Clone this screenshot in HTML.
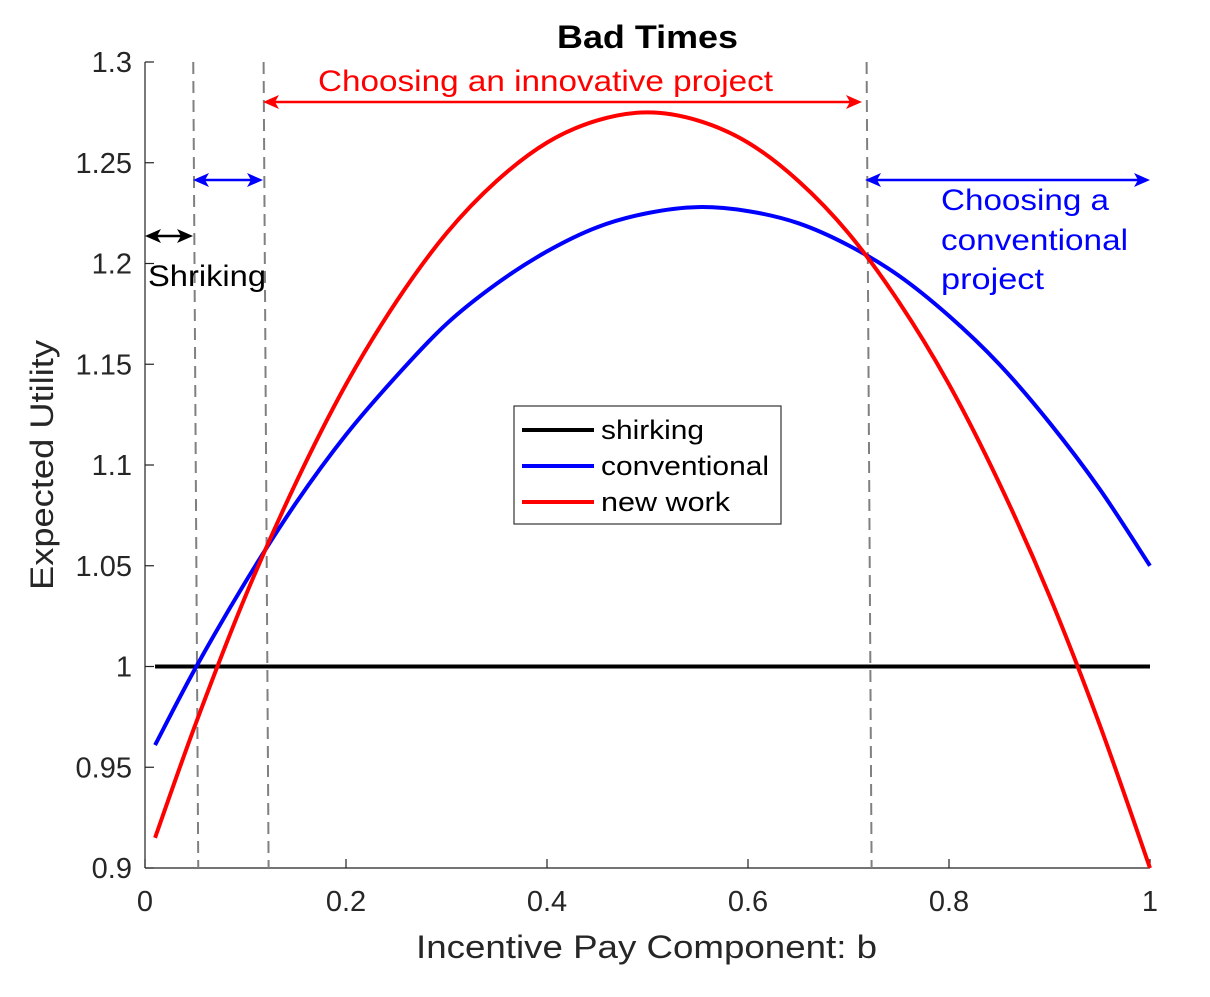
<!DOCTYPE html>
<html><head><meta charset="utf-8"><style>
body{margin:0;background:#fff}
svg text{font-family:"Liberation Sans",Arial,sans-serif}
</style></head><body>
<svg width="1210" height="992" viewBox="0 0 1210 992">
<g id="plot"></g>
</svg>
<script>
const bValues=[0.01,0.05,0.1,0.15,0.2,0.25,0.3,0.35,0.4,0.45,0.5,0.55,0.6,0.65,0.7,0.75,0.8,0.85,0.9,0.95,1.0];
const conventional=[0.961,0.999,1.042,1.081,1.115,1.144,1.170,1.190,1.206,1.218,1.225,1.228,1.226,1.220,1.209,1.194,1.174,1.150,1.121,1.088,1.050];
const newWork=[0.915,0.971,1.035,1.091,1.140,1.181,1.215,1.241,1.260,1.271,1.275,1.271,1.260,1.241,1.215,1.181,1.140,1.091,1.035,0.971,0.900];
const shirking=[1,1];
const shirkingB=[0.01,1];
const xTicks=[0,0.2,0.4,0.6,0.8,1];
const xTickLabels=["0","0.2","0.4","0.6","0.8","1"];
const yTicks=[0.9,0.95,1,1.05,1.1,1.15,1.2,1.25,1.3];
const yTickLabels=["0.9","0.95","1","1.05","1.1","1.15","1.2","1.25","1.3"];
const cutoffs=[0.05,0.12,0.72];

const X0=145,X1=1150,Y0=868,Y1=62;
const sx=v=>X0+(v-0)/(1-0)*(X1-X0);
const sy=v=>Y0-(v-0.9)/(1.3-0.9)*(Y0-Y1);
const NS="http://www.w3.org/2000/svg";
const g=document.getElementById('plot');
function mk(tag,attrs,name,text){const e=document.createElementNS(NS,tag);for(const k in attrs)e.setAttribute(k,attrs[k]);


if(text!==undefined)e.textContent=text;g.appendChild(e);return e;}

mk('line',{x1:X0,y1:Y0,x2:X1,y2:Y0,stroke:'#222','stroke-width':1.2},'x-axis');
mk('line',{x1:X0,y1:Y0,x2:X0,y2:Y1,stroke:'#222','stroke-width':1.2},'y-axis');
xTicks.forEach((t,i)=>{
 mk('line',{x1:sx(t),y1:Y0,x2:sx(t),y2:Y0-9,stroke:'#222','stroke-width':1.2},'x-tick');
 mk('text',{x:sx(t),y:Y0+43,'font-size':29,'text-anchor':'middle',fill:'#262626'},'x-tick-label',xTickLabels[i]);
});
yTicks.forEach((t,i)=>{
 mk('line',{x1:X0,y1:sy(t),x2:X0+9,y2:sy(t),stroke:'#222','stroke-width':1.2},'y-tick');
 mk('text',{x:X0-13,y:sy(t)+10,'font-size':29,'text-anchor':'end',fill:'#262626'},'y-tick-label',yTickLabels[i]);
});
mk('text',{x:416,y:958,'font-size':32,textLength:461,lengthAdjust:'spacingAndGlyphs',fill:'#262626'},'x-axis-title','Incentive Pay Component: b');
mk('text',{x:0,y:0,'font-size':32,'text-anchor':'middle',textLength:250,lengthAdjust:'spacingAndGlyphs',fill:'#262626',transform:'translate(53,465) rotate(-90)'},'y-axis-title','Expected Utility');
mk('text',{x:557,y:48,'font-size':32,'font-weight':'bold',textLength:181,lengthAdjust:'spacingAndGlyphs',fill:'#000'},'chart-title','Bad Times');

cutoffs.forEach(c=>{
 mk('line',{x1:sx(c)-2,y1:Y1,x2:sx(c)+3,y2:Y0,stroke:'#808080','stroke-width':2,'stroke-dasharray':'12,7'},'cutoff-line');
});

function smooth(xs,ys){
 const p=xs.map((x,i)=>[sx(x),sy(ys[i])]);
 let d='M'+p[0][0]+','+p[0][1];
 for(let i=0;i<p.length-1;i++){
  const p0=p[i-1]||p[i],p1=p[i],p2=p[i+1],p3=p[i+2]||p[i+1];
  const c1=[p1[0]+(p2[0]-p0[0])/6,p1[1]+(p2[1]-p0[1])/6];
  const c2=[p2[0]-(p3[0]-p1[0])/6,p2[1]-(p3[1]-p1[1])/6];
  d+=`C${c1[0]},${c1[1]} ${c2[0]},${c2[1]} ${p2[0]},${p2[1]}`;
 }
 return d;
}
mk('path',{d:smooth(shirkingB,shirking),stroke:'#000','stroke-width':4,fill:'none'},'shirking-line');
mk('path',{d:smooth(bValues,conventional),stroke:'#0000ff','stroke-width':4,fill:'none'},'conventional-line');
mk('path',{d:smooth(bValues,newWork),stroke:'#ff0000','stroke-width':4,fill:'none'},'new-work-line');

function arrow(x1,x2,y,color,name){
 mk('line',{x1:x1+4,y1:y,x2:x2-4,y2:y,stroke:color,'stroke-width':2.5},name);
 mk('path',{d:`M${x1},${y} l16,-7 l-4,7 l4,7z`,fill:color},name+'-head-left');
 mk('path',{d:`M${x2},${y} l-16,-7 l4,7 l-4,7z`,fill:color},name+'-head-right');
}
arrow(145,193,236,'#000','shirking-arrow');
arrow(193,263,180,'#0000ff','conventional-low-arrow');
arrow(263,862,102,'#ff0000','innovative-arrow');
arrow(865,1150,180,'#0000ff','conventional-high-arrow');
mk('text',{x:148,y:286,'font-size':30,textLength:118,lengthAdjust:'spacingAndGlyphs',fill:'#000'},'shirking-annotation','Shriking');
mk('text',{x:318,y:91,'font-size':30,textLength:455,lengthAdjust:'spacingAndGlyphs',fill:'#ff0000'},'innovative-annotation','Choosing an innovative project');
mk('text',{x:941,y:210,'font-size':30,textLength:168,lengthAdjust:'spacingAndGlyphs',fill:'#0000ff'},'conventional-annotation-1','Choosing a');
mk('text',{x:941,y:250,'font-size':30,textLength:187,lengthAdjust:'spacingAndGlyphs',fill:'#0000ff'},'conventional-annotation-2','conventional');
mk('text',{x:941,y:289,'font-size':30,textLength:103,lengthAdjust:'spacingAndGlyphs',fill:'#0000ff'},'conventional-annotation-3','project');

mk('rect',{x:514,y:406,width:267,height:118,fill:'#fff',stroke:'#333','stroke-width':1.2},'legend');
const leg=[['shirking','#000',103],['conventional','#0000ff',168],['new work','#ff0000',129]];
leg.forEach((l,i)=>{
 const y=430+i*36;
 mk('line',{x1:522,y1:y,x2:594,y2:y,stroke:l[1],'stroke-width':4},'legend-swatch');
 mk('text',{x:601,y:y+9,'font-size':27,textLength:l[2],lengthAdjust:'spacingAndGlyphs',fill:'#000'},'legend-entry',l[0]);
});
</script>
</body></html>
